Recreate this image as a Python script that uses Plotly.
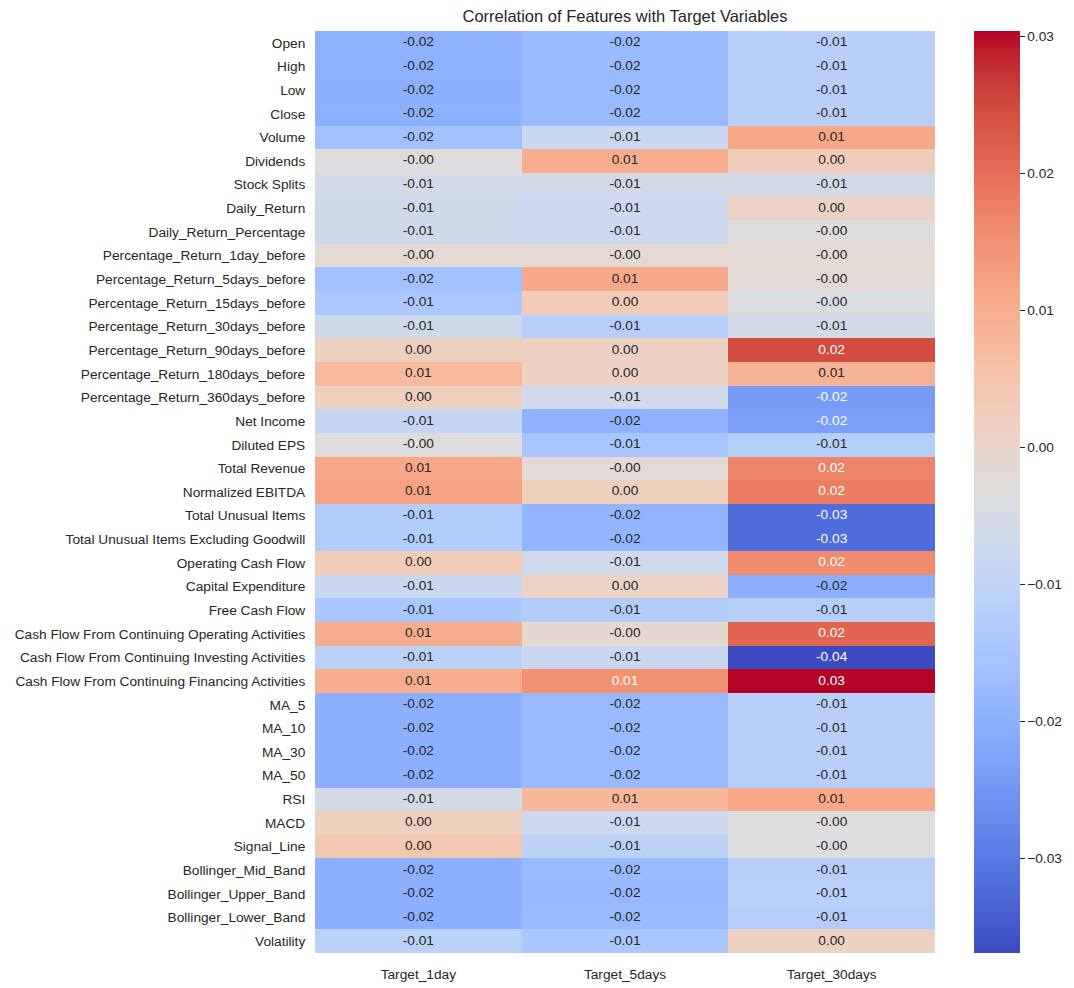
import plotly.graph_objects as go
import numpy as np

features = [
    "Open", "High", "Low", "Close", "Volume", "Dividends", "Stock Splits",
    "Daily_Return", "Daily_Return_Percentage", "Percentage_Return_1day_before",
    "Percentage_Return_5days_before", "Percentage_Return_15days_before",
    "Percentage_Return_30days_before", "Percentage_Return_90days_before",
    "Percentage_Return_180days_before", "Percentage_Return_360days_before",
    "Net Income", "Diluted EPS", "Total Revenue", "Normalized EBITDA",
    "Total Unusual Items", "Total Unusual Items Excluding Goodwill",
    "Operating Cash Flow", "Capital Expenditure", "Free Cash Flow",
    "Cash Flow From Continuing Operating Activities",
    "Cash Flow From Continuing Investing Activities",
    "Cash Flow From Continuing Financing Activities",
    "MA_5", "MA_10", "MA_30", "MA_50", "RSI", "MACD", "Signal_Line",
    "Bollinger_Mid_Band", "Bollinger_Upper_Band", "Bollinger_Lower_Band", "Volatility",
]
targets = ["Target_1day", "Target_5days", "Target_30days"]

target_1day = [
    -0.0198, -0.0198, -0.0200, -0.0199, -0.0160, -0.0030, -0.0055,
    -0.0070, -0.0070, -0.0015,
    -0.0160, -0.0140, -0.0070, 0.0020, 0.0075, 0.0020,
    -0.0090, -0.0030, 0.0110, 0.0120,
    -0.0130, -0.0130, 0.0030, -0.0080, -0.0145,
    0.0100, -0.0110, 0.0100,
    -0.0200, -0.0200, -0.0200, -0.0200, -0.0055, 0.0020, 0.0040,
    -0.0200, -0.0200, -0.0203, -0.0110,
]
target_5days = [
    -0.0178, -0.0178, -0.0178, -0.0178, -0.0080, 0.0100, -0.0060,
    -0.0075, -0.0075, -0.0015,
    0.0110, 0.0030, -0.0120, 0.0015, 0.0015, -0.0065,
    -0.0195, -0.0150, -0.0020, 0.0020,
    -0.0190, -0.0190, -0.0065, 0.0010, -0.0130,
    -0.0010, -0.0080, 0.0149,
    -0.0178, -0.0178, -0.0178, -0.0178, 0.0080, -0.0075, -0.0110,
    -0.0178, -0.0180, -0.0178, -0.0145,
]
target_30days = [
    -0.0117, -0.0117, -0.0117, -0.0117, 0.0110, 0.0030, -0.0060,
    0.0008, -0.0030, -0.0015,
    -0.0020, -0.0040, -0.0060, 0.0245, 0.0090, -0.0240,
    -0.0235, -0.0120, 0.0170, 0.0180,
    -0.0320, -0.0320, 0.0160, -0.0205, -0.0120,
    0.0215, -0.0369, 0.0304,
    -0.0117, -0.0117, -0.0117, -0.0117, 0.0110, -0.0030, -0.0035,
    -0.0117, -0.0115, -0.0125, 0.0015,
]

cbar_ticks = [0.03, 0.02, 0.01, 0.00, -0.01, -0.02, -0.03]

# matplotlib "coolwarm" colormap stops
cw = [
    (59, 76, 192), (68, 90, 204), (77, 104, 215), (87, 117, 225), (98, 130, 234),
    (108, 142, 241), (119, 154, 247), (130, 165, 251), (141, 176, 254), (152, 185, 255),
    (163, 194, 255), (174, 201, 253), (184, 208, 249), (194, 213, 244), (204, 217, 238),
    (213, 219, 230), (221, 221, 221), (229, 216, 209), (236, 211, 197), (241, 204, 184),
    (245, 196, 172), (247, 187, 159), (247, 177, 147), (247, 166, 134), (244, 154, 123),
    (241, 141, 111), (236, 127, 99), (229, 112, 88), (222, 96, 77), (213, 80, 66),
    (203, 62, 56), (192, 40, 47), (180, 4, 38),
]
n = len(cw) - 1
colorscale = [[i / n, "rgb(%d,%d,%d)" % c] for i, c in enumerate(cw)]

Z = np.array([target_1day, target_5days, target_30days]).T
zmin, zmax = Z.min(), Z.max()


def color_at(v):
    t = (v - zmin) / (zmax - zmin) * n
    i = min(int(np.floor(t)), n - 1)
    f = t - i
    a, b = np.array(cw[i]), np.array(cw[i + 1])
    return a + (b - a) * f


def lum(rgb):
    c = np.array(rgb) / 255.0
    c = np.where(c <= 0.03928, c / 12.92, ((c + 0.055) / 1.055) ** 2.4)
    return 0.2126 * c[0] + 0.7152 * c[1] + 0.0722 * c[2]


tx, ty, tt, tc = [], [], [], []
for r, feat in enumerate(features):
    for c, tgt in enumerate(targets):
        v = Z[r, c]
        tx.append(tgt)
        ty.append(feat)
        tt.append(f"{v:.2f}")
        tc.append("#262626" if lum(color_at(v)) > 0.408 else "white")

FONT = "Liberation Sans, Arial, sans-serif"
FS = 13.7
# page body has an 8px margin, so the figure is laid out 8px smaller/shifted
OFF = 8
W, H = 1074 - OFF, 988 - OFF
L, R, T, B = 315 - OFF, 935 - OFF, 31 - OFF, 953 - OFF

fig = go.Figure()
fig.add_trace(go.Heatmap(
    z=Z, x=targets, y=features, colorscale=colorscale, zmin=zmin, zmax=zmax,
    hoverinfo="skip", xgap=0, ygap=0,
    colorbar=dict(
        x=(974 - OFF - L) / (R - L), xanchor="left", xref="paper", xpad=0, ypad=0,
        y=0.5, yanchor="middle", len=1.0, lenmode="fraction",
        thickness=46, thicknessmode="pixels", outlinewidth=0,
        tickvals=cbar_ticks,
        ticktext=[("\u2212" if t < 0 else "") + f"{abs(t):.2f}" for t in cbar_ticks],
        ticks="outside", ticklen=5, tickwidth=1, tickcolor="#262626",
        tickfont=dict(family=FONT, size=FS, color="#262626"),
    ),
))
fig.add_trace(go.Scatter(
    x=tx, y=ty, text=tt, mode="text", hoverinfo="skip", showlegend=False,
    textfont=dict(family=FONT, size=FS, color=tc),
))

fig.update_layout(
    width=W, height=H,
    margin=dict(l=L, r=W - R, t=T, b=H - B, pad=0, autoexpand=False),
    paper_bgcolor="white", plot_bgcolor="white",
    font=dict(family=FONT, size=FS, color="#262626"),
    title=dict(text="Correlation of Features with Target Variables",
               x=0.5 * (L + R) / W, xanchor="center",
               y=1 - (16 - OFF) / H, yanchor="middle", yref="container",
               font=dict(size=16.5, color="#262626")),
    showlegend=False,
)
fig.update_xaxes(showgrid=False, zeroline=False, showline=False, ticks="outside",
                 ticklen=9, tickcolor="rgba(0,0,0,0)", range=[-0.5, 2.5],
                 automargin=False, tickfont=dict(size=FS))
fig.update_yaxes(showgrid=False, zeroline=False, showline=False, ticks="outside",
                 ticklen=6, tickcolor="rgba(0,0,0,0)",
                 range=[len(features) - 0.5, -0.5],
                 automargin=False, tickfont=dict(size=FS))

fig.write_html("out.html")
